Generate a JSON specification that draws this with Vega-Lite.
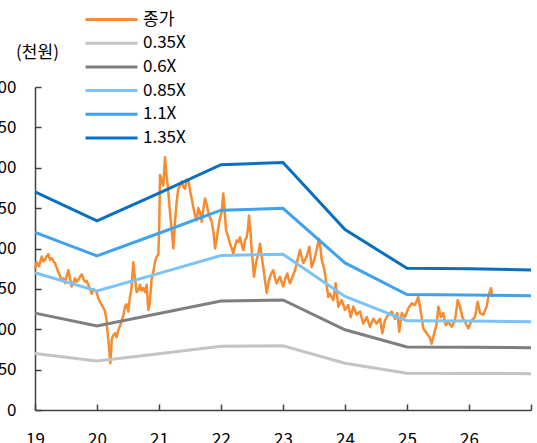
{
"$schema": "https://vega.github.io/schema/vega-lite/v6.json",
"width": 496,
"height": 323,
"autosize": {"type": "none"},
"padding": {"left": 35, "top": 87, "right": 6, "bottom": 33},
"config": {"font": "Noto Sans CJK KR", "view": {"stroke": null}, "background": "white"},
"datasets": {
"price": [
{"s":"종가","t":2019.000,"v":175},{"s":"종가","t":2019.027,"v":183},{"s":"종가","t":2019.065,"v":178},{"s":"종가","t":2019.108,"v":190},{"s":"종가","t":2019.137,"v":184},{"s":"종가","t":2019.161,"v":186},{"s":"종가","t":2019.194,"v":191},{"s":"종가","t":2019.215,"v":193},{"s":"종가","t":2019.242,"v":186},{"s":"종가","t":2019.269,"v":188},{"s":"종가","t":2019.298,"v":184},{"s":"종가","t":2019.323,"v":182},{"s":"종가","t":2019.355,"v":175},{"s":"종가","t":2019.376,"v":171},{"s":"종가","t":2019.403,"v":166},{"s":"종가","t":2019.431,"v":161},{"s":"종가","t":2019.460,"v":163},{"s":"종가","t":2019.484,"v":157},{"s":"종가","t":2019.508,"v":165},{"s":"종가","t":2019.537,"v":173},{"s":"종가","t":2019.565,"v":163},{"s":"종가","t":2019.592,"v":153},{"s":"종가","t":2019.621,"v":158},{"s":"종가","t":2019.645,"v":163},{"s":"종가","t":2019.669,"v":159},{"s":"종가","t":2019.698,"v":161},{"s":"종가","t":2019.726,"v":165},{"s":"종가","t":2019.753,"v":168},{"s":"종가","t":2019.782,"v":162},{"s":"종가","t":2019.806,"v":159},{"s":"종가","t":2019.831,"v":160},{"s":"종가","t":2019.860,"v":155},{"s":"종가","t":2019.887,"v":150},{"s":"종가","t":2019.915,"v":144},{"s":"종가","t":2019.944,"v":150},{"s":"종가","t":2019.968,"v":148},{"s":"종가","t":2019.995,"v":146},
{"s":"종가","t":2020.021,"v":138},{"s":"종가","t":2020.048,"v":134},{"s":"종가","t":2020.076,"v":130},{"s":"종가","t":2020.105,"v":126},{"s":"종가","t":2020.129,"v":122},{"s":"종가","t":2020.153,"v":112},{"s":"종가","t":2020.166,"v":99},{"s":"종가","t":2020.185,"v":85},{"s":"종가","t":2020.198,"v":74},{"s":"종가","t":2020.215,"v":58},{"s":"종가","t":2020.226,"v":70},{"s":"종가","t":2020.237,"v":87},{"s":"종가","t":2020.258,"v":92},{"s":"종가","t":2020.290,"v":95},{"s":"종가","t":2020.315,"v":90},{"s":"종가","t":2020.344,"v":99},{"s":"종가","t":2020.371,"v":104},{"s":"종가","t":2020.398,"v":110},{"s":"종가","t":2020.427,"v":118},{"s":"종가","t":2020.452,"v":128},{"s":"종가","t":2020.476,"v":131},{"s":"종가","t":2020.505,"v":122},{"s":"종가","t":2020.532,"v":140},{"s":"종가","t":2020.556,"v":150},{"s":"종가","t":2020.585,"v":183},{"s":"종가","t":2020.605,"v":168},{"s":"종가","t":2020.640,"v":146},{"s":"종가","t":2020.666,"v":148},{"s":"종가","t":2020.694,"v":155},{"s":"종가","t":2020.718,"v":148},{"s":"종가","t":2020.747,"v":151},{"s":"종가","t":2020.774,"v":146},{"s":"종가","t":2020.802,"v":155},{"s":"종가","t":2020.827,"v":124},{"s":"종가","t":2020.847,"v":130},{"s":"종가","t":2020.882,"v":163},{"s":"종가","t":2020.911,"v":172},{"s":"종가","t":2020.935,"v":183},{"s":"종가","t":2020.963,"v":190},{"s":"종가","t":2020.989,"v":192},
{"s":"종가","t":2021.005,"v":230},{"s":"종가","t":2021.016,"v":291},{"s":"종가","t":2021.040,"v":285},{"s":"종가","t":2021.069,"v":278},{"s":"종가","t":2021.097,"v":313},{"s":"종가","t":2021.121,"v":290},{"s":"종가","t":2021.140,"v":279},{"s":"종가","t":2021.161,"v":260},{"s":"종가","t":2021.177,"v":245},{"s":"종가","t":2021.202,"v":225},{"s":"종가","t":2021.231,"v":200},{"s":"종가","t":2021.258,"v":233},{"s":"종가","t":2021.285,"v":258},{"s":"종가","t":2021.311,"v":274},{"s":"종가","t":2021.339,"v":278},{"s":"종가","t":2021.366,"v":283},{"s":"종가","t":2021.395,"v":276},{"s":"종가","t":2021.419,"v":274},{"s":"종가","t":2021.447,"v":285},{"s":"종가","t":2021.473,"v":285},{"s":"종가","t":2021.500,"v":272},{"s":"종가","t":2021.527,"v":262},{"s":"종가","t":2021.556,"v":250},{"s":"종가","t":2021.581,"v":241},{"s":"종가","t":2021.608,"v":235},{"s":"종가","t":2021.634,"v":250},{"s":"종가","t":2021.661,"v":245},{"s":"종가","t":2021.689,"v":233},{"s":"종가","t":2021.718,"v":250},{"s":"종가","t":2021.742,"v":262},{"s":"종가","t":2021.769,"v":255},{"s":"종가","t":2021.795,"v":245},{"s":"종가","t":2021.823,"v":238},{"s":"종가","t":2021.850,"v":233},{"s":"종가","t":2021.879,"v":220},{"s":"종가","t":2021.903,"v":200},{"s":"종가","t":2021.927,"v":210},{"s":"종가","t":2021.947,"v":221},{"s":"종가","t":2021.976,"v":235},
{"s":"종가","t":2022.011,"v":245},{"s":"종가","t":2022.037,"v":268},{"s":"종가","t":2022.056,"v":250},{"s":"종가","t":2022.081,"v":223},{"s":"종가","t":2022.113,"v":215},{"s":"종가","t":2022.145,"v":206},{"s":"종가","t":2022.173,"v":200},{"s":"종가","t":2022.198,"v":194},{"s":"종가","t":2022.226,"v":203},{"s":"종가","t":2022.253,"v":210},{"s":"종가","t":2022.282,"v":208},{"s":"종가","t":2022.306,"v":214},{"s":"종가","t":2022.334,"v":205},{"s":"종가","t":2022.360,"v":198},{"s":"종가","t":2022.387,"v":210},{"s":"종가","t":2022.415,"v":214},{"s":"종가","t":2022.435,"v":225},{"s":"종가","t":2022.452,"v":241},{"s":"종가","t":2022.476,"v":220},{"s":"종가","t":2022.495,"v":198},{"s":"종가","t":2022.516,"v":180},{"s":"종가","t":2022.532,"v":165},{"s":"종가","t":2022.556,"v":178},{"s":"종가","t":2022.576,"v":186},{"s":"종가","t":2022.605,"v":195},{"s":"종가","t":2022.629,"v":206},{"s":"종가","t":2022.656,"v":190},{"s":"종가","t":2022.682,"v":177},{"s":"종가","t":2022.710,"v":160},{"s":"종가","t":2022.737,"v":145},{"s":"종가","t":2022.766,"v":158},{"s":"종가","t":2022.790,"v":165},{"s":"종가","t":2022.818,"v":170},{"s":"종가","t":2022.844,"v":173},{"s":"종가","t":2022.871,"v":163},{"s":"종가","t":2022.898,"v":157},{"s":"종가","t":2022.927,"v":162},{"s":"종가","t":2022.952,"v":165},{"s":"종가","t":2022.979,"v":158},
{"s":"종가","t":2023.005,"v":153},{"s":"종가","t":2023.032,"v":162},{"s":"종가","t":2023.069,"v":169},{"s":"종가","t":2023.089,"v":162},{"s":"종가","t":2023.113,"v":157},{"s":"종가","t":2023.153,"v":165},{"s":"종가","t":2023.194,"v":173},{"s":"종가","t":2023.234,"v":186},{"s":"종가","t":2023.274,"v":198},{"s":"종가","t":2023.298,"v":190},{"s":"종가","t":2023.327,"v":182},{"s":"종가","t":2023.355,"v":186},{"s":"종가","t":2023.382,"v":190},{"s":"종가","t":2023.403,"v":196},{"s":"종가","t":2023.424,"v":202},{"s":"종가","t":2023.444,"v":190},{"s":"종가","t":2023.463,"v":177},{"s":"종가","t":2023.492,"v":183},{"s":"종가","t":2023.516,"v":190},{"s":"종가","t":2023.548,"v":200},{"s":"종가","t":2023.581,"v":212},{"s":"종가","t":2023.605,"v":200},{"s":"종가","t":2023.624,"v":186},{"s":"종가","t":2023.653,"v":178},{"s":"종가","t":2023.677,"v":169},{"s":"종가","t":2023.702,"v":155},{"s":"종가","t":2023.731,"v":140},{"s":"종가","t":2023.758,"v":144},{"s":"종가","t":2023.811,"v":136},{"s":"종가","t":2023.850,"v":157},{"s":"종가","t":2023.892,"v":128},{"s":"종가","t":2023.947,"v":136},
{"s":"종가","t":2024.000,"v":124},{"s":"종가","t":2024.053,"v":130},{"s":"종가","t":2024.092,"v":115},{"s":"종가","t":2024.134,"v":128},{"s":"종가","t":2024.189,"v":118},{"s":"종가","t":2024.242,"v":122},{"s":"종가","t":2024.295,"v":107},{"s":"종가","t":2024.350,"v":115},{"s":"종가","t":2024.403,"v":103},{"s":"종가","t":2024.456,"v":113},{"s":"종가","t":2024.511,"v":107},{"s":"종가","t":2024.565,"v":113},{"s":"종가","t":2024.602,"v":95},{"s":"종가","t":2024.645,"v":111},{"s":"종가","t":2024.698,"v":118},{"s":"종가","t":2024.753,"v":122},{"s":"종가","t":2024.806,"v":113},{"s":"종가","t":2024.844,"v":120},{"s":"종가","t":2024.876,"v":97},{"s":"종가","t":2024.915,"v":120},{"s":"종가","t":2024.968,"v":115},
{"s":"종가","t":2025.021,"v":126},{"s":"종가","t":2025.076,"v":132},{"s":"종가","t":2025.129,"v":130},{"s":"종가","t":2025.182,"v":140},{"s":"종가","t":2025.226,"v":120},{"s":"종가","t":2025.263,"v":101},{"s":"종가","t":2025.318,"v":95},{"s":"종가","t":2025.371,"v":89},{"s":"종가","t":2025.398,"v":82},{"s":"종가","t":2025.440,"v":95},{"s":"종가","t":2025.479,"v":107},{"s":"종가","t":2025.505,"v":128},{"s":"종가","t":2025.548,"v":115},{"s":"종가","t":2025.585,"v":120},{"s":"종가","t":2025.624,"v":105},{"s":"종가","t":2025.666,"v":109},{"s":"종가","t":2025.721,"v":103},{"s":"종가","t":2025.774,"v":111},{"s":"종가","t":2025.818,"v":136},{"s":"종가","t":2025.855,"v":128},{"s":"종가","t":2025.892,"v":115},{"s":"종가","t":2025.935,"v":109},{"s":"종가","t":2025.989,"v":101},
{"s":"종가","t":2026.044,"v":111},{"s":"종가","t":2026.097,"v":115},{"s":"종가","t":2026.140,"v":134},{"s":"종가","t":2026.177,"v":120},{"s":"종가","t":2026.231,"v":118},{"s":"종가","t":2026.285,"v":128},{"s":"종가","t":2026.323,"v":144},{"s":"종가","t":2026.355,"v":151},{"s":"종가","t":2026.376,"v":140}
],
"bands": [
{"s":"0.35X","t":2019,"v":70},{"s":"0.35X","t":2020,"v":60.7},{"s":"0.35X","t":2021,"v":69.7},{"s":"0.35X","t":2022,"v":78.8},{"s":"0.35X","t":2023,"v":79.5},{"s":"0.35X","t":2024,"v":57.9},{"s":"0.35X","t":2025,"v":45.5},{"s":"0.35X","t":2026,"v":45.3},{"s":"0.35X","t":2027,"v":45.0},
{"s":"0.6X","t":2019,"v":120},{"s":"0.6X","t":2020,"v":104.1},{"s":"0.6X","t":2021,"v":119.4},{"s":"0.6X","t":2022,"v":135},{"s":"0.6X","t":2023,"v":136.2},{"s":"0.6X","t":2024,"v":99.3},{"s":"0.6X","t":2025,"v":78},{"s":"0.6X","t":2026,"v":77.7},{"s":"0.6X","t":2027,"v":77.1},
{"s":"0.85X","t":2019,"v":170},{"s":"0.85X","t":2020,"v":147.5},{"s":"0.85X","t":2021,"v":169.2},{"s":"0.85X","t":2022,"v":191.3},{"s":"0.85X","t":2023,"v":193},{"s":"0.85X","t":2024,"v":140.7},{"s":"0.85X","t":2025,"v":110.5},{"s":"0.85X","t":2026,"v":110.1},{"s":"0.85X","t":2027,"v":109.2},
{"s":"1.1X","t":2019,"v":220},{"s":"1.1X","t":2020,"v":190.9},{"s":"1.1X","t":2021,"v":218.9},{"s":"1.1X","t":2022,"v":247.5},{"s":"1.1X","t":2023,"v":249.7},{"s":"1.1X","t":2024,"v":182.1},{"s":"1.1X","t":2025,"v":143},{"s":"1.1X","t":2026,"v":142.5},{"s":"1.1X","t":2027,"v":141.4},
{"s":"1.35X","t":2019,"v":270},{"s":"1.35X","t":2020,"v":234.2},{"s":"1.35X","t":2021,"v":268.7},{"s":"1.35X","t":2022,"v":303.8},{"s":"1.35X","t":2023,"v":306.5},{"s":"1.35X","t":2024,"v":223.4},{"s":"1.35X","t":2025,"v":175.5},{"s":"1.35X","t":2026,"v":174.8},{"s":"1.35X","t":2027,"v":173.5}
]
},
"encoding": {
"x": {"field": "t", "type": "quantitative",
 "scale": {"domain": [2019, 2027], "nice": false, "zero": false},
 "axis": {"values": [2019,2020,2021,2022,2023,2024,2025,2026,2027],
  "labelExpr": "datum.value < 2027 ? substring(toString(datum.value), 2, 4) : ''",
  "grid": false, "title": null, "tickSize": -6, "labelPadding": 27, "labelFlush": false, "labelOverlap": false,
  "labelFontSize": 17, "labelColor": "#000000", "domainColor": "#404040", "tickColor": "#404040", "domainWidth": 1.5, "tickWidth": 1.5}},
"y": {"field": "v", "type": "quantitative",
 "scale": {"domain": [0, 400], "nice": false},
 "axis": {"values": [0,50,100,150,200,250,300,350,400], "grid": false,
  "tickSize": -6, "labelPadding": 25, "labelFontSize": 17, "labelColor": "#000000",
  "domainColor": "#404040", "tickColor": "#404040", "domainWidth": 1.5, "tickWidth": 1.5,
  "title": "(천원)", "titleAngle": 0, "titleX": 2, "titleY": -35, "titleAlign": "center", "titleBaseline": "middle",
  "titleFontSize": 17, "titleFontWeight": "normal", "titleColor": "#000000"}},
"color": {"field": "s", "type": "nominal",
 "scale": {"domain": ["종가","0.35X","0.6X","0.85X","1.1X","1.35X"],
  "range": ["#F68B2F","#C4C4C4","#7F7F7F","#7CC3F7","#3FA2EE","#0B6FC1"]},
 "legend": {"orient": "none", "legendX": 65, "legendY": -79, "title": null, "padding": 0,
  "symbolType": "M-2.6,0H2.6", "symbolSize": 400, "symbolStrokeWidth": 3,
  "labelFontSize": 17, "labelColor": "#000000", "labelOffset": 20, "rowPadding": 3.7}}
},
"layer": [
{"data": {"name": "price"}, "mark": {"type": "line", "strokeWidth": 2.5, "strokeJoin": "round"}},
{"data": {"name": "bands"}, "mark": {"type": "line", "strokeWidth": 3}}
]
}
